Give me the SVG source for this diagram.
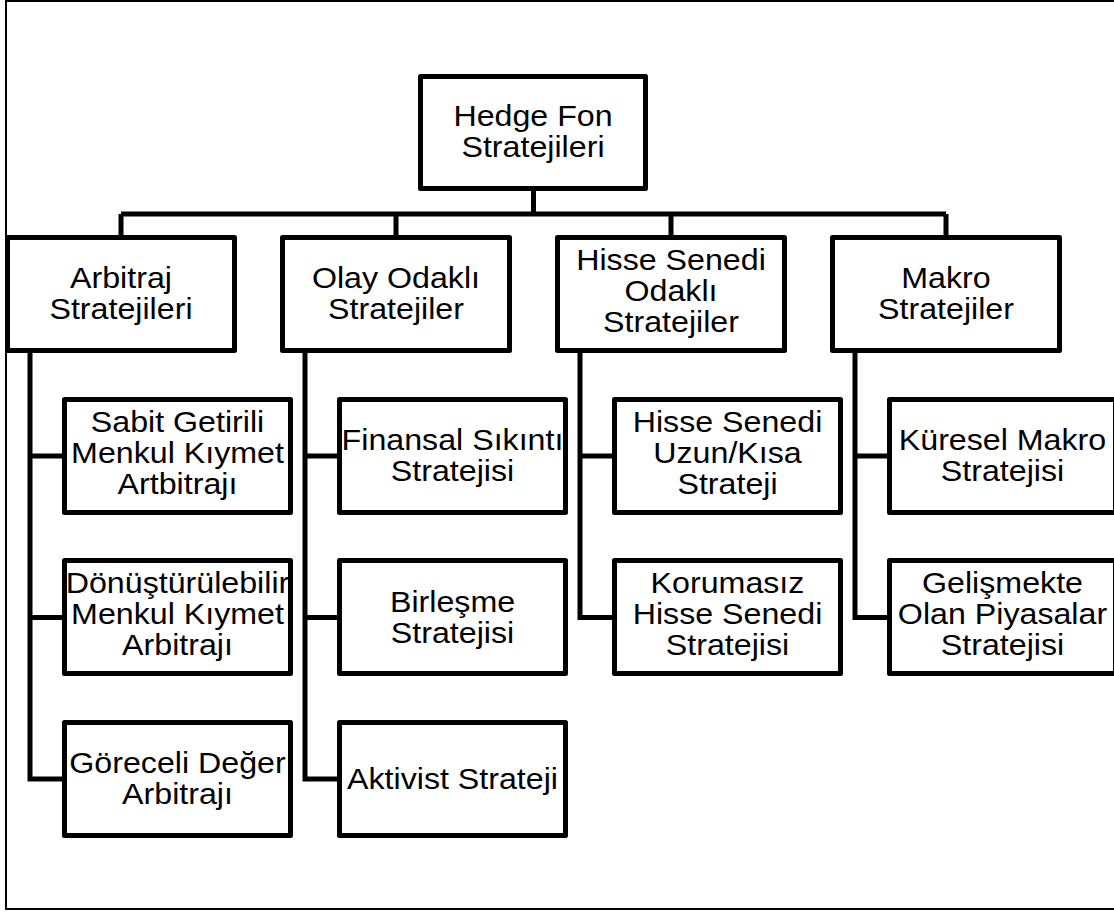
<svg xmlns="http://www.w3.org/2000/svg" width="1114" height="913" viewBox="0 0 1114 913">
<style>
.bg{fill:#fff;stroke:none}
.bd{fill:none;stroke:#000;stroke-width:5;stroke-linejoin:round}
.frame{fill:#fff;stroke:#000;stroke-width:2}
.t{font-family:"Liberation Sans",Arial,sans-serif;font-size:29px;fill:#000;text-anchor:middle}
.c{fill:none;stroke:#000;stroke-width:5;stroke-linejoin:miter}
</style>
<rect class="frame" x="6" y="1" width="1130" height="908"/>
<g id="connectors">
<path class="c" d="M533.5,191 V214 M121,214 H946 M121,214 V235 M396,214 V235 M671,214 V235 M946,214 V235"/>
<path class="c" d="M30,353 V779 H62 M30,456 H62 M30,617.5 H62"/>
<path class="c" d="M305,353 V779 H337 M305,456 H337 M305,617.5 H337"/>
<path class="c" d="M580,353 V617.5 H612 M580,456 H612"/>
<path class="c" d="M855,353 V617.5 H887 M855,456 H887"/>
</g>
<g id="root">
<rect class="bg" x="420.5" y="76.5" width="225" height="112"/>
<text class="t" transform="translate(533,0) scale(1.11,1)"><tspan x="0" y="126">Hedge Fon</tspan><tspan x="0" y="157">Stratejileri</tspan></text>
<rect class="bd" x="420.5" y="76.5" width="225" height="112"/>
</g>
<g id="arbitraj">
<rect class="bg" x="7.5" y="237.5" width="227" height="113"/>
<text class="t" transform="translate(121,0) scale(1.11,1)"><tspan x="0" y="288.5">Arbitraj</tspan><tspan x="0" y="319.5">Stratejileri</tspan></text>
<rect class="bd" x="7.5" y="237.5" width="227" height="113"/>
</g>
<g id="olay">
<rect class="bg" x="282.5" y="237.5" width="227" height="113"/>
<text class="t" transform="translate(396,0) scale(1.11,1)"><tspan x="0" y="288.5">Olay Odaklı</tspan><tspan x="0" y="319.5">Stratejiler</tspan></text>
<rect class="bd" x="282.5" y="237.5" width="227" height="113"/>
</g>
<g id="hisse">
<rect class="bg" x="557.5" y="237.5" width="227" height="113"/>
<text class="t" transform="translate(671,0) scale(1.11,1)"><tspan x="0" y="270">Hisse Senedi</tspan><tspan x="0" y="301">Odaklı</tspan><tspan x="0" y="332">Stratejiler</tspan></text>
<rect class="bd" x="557.5" y="237.5" width="227" height="113"/>
</g>
<g id="makro">
<rect class="bg" x="832.5" y="237.5" width="227" height="113"/>
<text class="t" transform="translate(946,0) scale(1.11,1)"><tspan x="0" y="288.5">Makro</tspan><tspan x="0" y="319.5">Stratejiler</tspan></text>
<rect class="bd" x="832.5" y="237.5" width="227" height="113"/>
</g>
<g id="sabit">
<rect class="bg" x="64.5" y="399.5" width="226" height="113"/>
<text class="t" transform="translate(177.5,0) scale(1.11,1)"><tspan x="0" y="432">Sabit Getirili</tspan><tspan x="0" y="463">Menkul Kıymet</tspan><tspan x="0" y="494">Artbitrajı</tspan></text>
<rect class="bd" x="64.5" y="399.5" width="226" height="113"/>
</g>
<g id="donusturulebilir">
<rect class="bg" x="64.5" y="560.5" width="226" height="113"/>
<text class="t" transform="translate(177.5,0) scale(1.11,1)"><tspan x="0" y="593">Dönüştürülebilir</tspan><tspan x="0" y="624">Menkul Kıymet</tspan><tspan x="0" y="655">Arbitrajı</tspan></text>
<rect class="bd" x="64.5" y="560.5" width="226" height="113"/>
</g>
<g id="goreceli">
<rect class="bg" x="64.5" y="722.5" width="226" height="113"/>
<text class="t" transform="translate(177.5,0) scale(1.11,1)"><tspan x="0" y="773">Göreceli Değer</tspan><tspan x="0" y="804">Arbitrajı</tspan></text>
<rect class="bd" x="64.5" y="722.5" width="226" height="113"/>
</g>
<g id="finansal">
<rect class="bg" x="339.5" y="399.5" width="226" height="113"/>
<text class="t" transform="translate(452.5,0) scale(1.11,1)"><tspan x="0" y="450.5">Finansal Sıkıntı</tspan><tspan x="0" y="481.5">Stratejisi</tspan></text>
<rect class="bd" x="339.5" y="399.5" width="226" height="113"/>
</g>
<g id="birlesme">
<rect class="bg" x="339.5" y="560.5" width="226" height="113"/>
<text class="t" transform="translate(452.5,0) scale(1.11,1)"><tspan x="0" y="612">Birleşme</tspan><tspan x="0" y="643">Stratejisi</tspan></text>
<rect class="bd" x="339.5" y="560.5" width="226" height="113"/>
</g>
<g id="aktivist">
<rect class="bg" x="339.5" y="722.5" width="226" height="113"/>
<text class="t" transform="translate(452.5,0) scale(1.11,1)"><tspan x="0" y="789">Aktivist Strateji</tspan></text>
<rect class="bd" x="339.5" y="722.5" width="226" height="113"/>
</g>
<g id="uzunkisa">
<rect class="bg" x="614.5" y="399.5" width="226" height="113"/>
<text class="t" transform="translate(727.5,0) scale(1.11,1)"><tspan x="0" y="432">Hisse Senedi</tspan><tspan x="0" y="463">Uzun/Kısa</tspan><tspan x="0" y="494">Strateji</tspan></text>
<rect class="bd" x="614.5" y="399.5" width="226" height="113"/>
</g>
<g id="korumasiz">
<rect class="bg" x="614.5" y="560.5" width="226" height="113"/>
<text class="t" transform="translate(727.5,0) scale(1.11,1)"><tspan x="0" y="593">Korumasız</tspan><tspan x="0" y="624">Hisse Senedi</tspan><tspan x="0" y="655">Stratejisi</tspan></text>
<rect class="bd" x="614.5" y="560.5" width="226" height="113"/>
</g>
<g id="kuresel">
<rect class="bg" x="889.5" y="399.5" width="226" height="113"/>
<text class="t" transform="translate(1002.5,0) scale(1.11,1)"><tspan x="0" y="450.5">Küresel Makro</tspan><tspan x="0" y="481.5">Stratejisi</tspan></text>
<rect class="bd" x="889.5" y="399.5" width="226" height="113"/>
</g>
<g id="gelismekte">
<rect class="bg" x="889.5" y="560.5" width="226" height="113"/>
<text class="t" transform="translate(1002.5,0) scale(1.11,1)"><tspan x="0" y="593">Gelişmekte</tspan><tspan x="0" y="624">Olan Piyasalar</tspan><tspan x="0" y="655">Stratejisi</tspan></text>
<rect class="bd" x="889.5" y="560.5" width="226" height="113"/>
</g>
</svg>
